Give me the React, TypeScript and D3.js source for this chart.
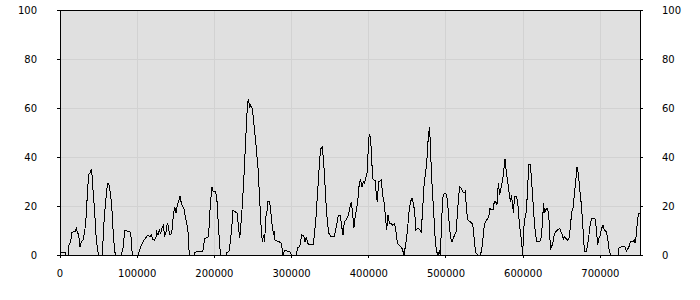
import React from "react";
import * as d3 from "d3";

const xTicks = [0, 100000, 200000, 300000, 400000, 500000, 600000, 700000];
const yTicks = [0, 20, 40, 60, 80, 100];

const xs = [
  0, 6900, 7800, 10400, 11700, 13800, 15500, 19900, 21200, 22500, 24200, 25900, 27600, 29800, 32000, 33700, 35400, 37100, 39300, 40600,
  41500, 43200, 44900, 46600, 48400, 50100, 54800, 57000, 58700, 60500, 62200, 63900, 65600, 67400, 69100, 70800, 72500, 79500, 81600, 82900,
  83800, 91500, 92400, 93700, 101000, 103200, 105400, 107500, 109700, 112300, 114000, 116600, 118300, 120000, 122600, 124400, 125200, 126900, 128700, 130400,
  132100, 133900, 135600, 137300, 139000, 140800, 141600, 143400, 145100, 146800, 148500, 150300, 152000, 153700, 155400, 157200, 158900, 160600, 162400, 164100,
  165800, 167500, 174000, 175000, 183900, 185200, 187400, 191700, 193000, 194700, 196900, 198200, 201600, 203400, 205100, 206800, 208100, 215400, 215900, 218900,
  220600, 222400, 224100, 226700, 229300, 231000, 232700, 234000, 236200, 237900, 239600, 241400, 243100, 244400, 245700, 247000, 248700, 250000, 252200, 254300,
  256500, 258600, 260400, 262100, 263800, 265100, 266400, 268100, 269000, 271600, 273300, 275000, 276800, 277600, 278500, 281100, 283700, 286300, 288000, 288900,
  290600, 294000, 297500, 299700, 306100, 307900, 310500, 313000, 315600, 317400, 319100, 320800, 322500, 327700, 329500, 331200, 332900, 334600, 336400, 338100,
  339800, 341500, 343300, 345000, 346700, 348400, 351000, 355400, 357100, 358800, 360500, 363100, 364900, 366600, 368300, 370900, 373500, 375200, 377400, 379100,
  380800, 382500, 384300, 386000, 387700, 389500, 391200, 392900, 394600, 396400, 398100, 399800, 401100, 402400, 403700, 405000, 406700, 408500, 409700, 411000,
  412800, 414500, 416200, 418000, 419700, 421400, 423100, 424900, 426600, 428300, 430900, 433500, 435200, 437000, 438700, 441300, 443000, 444700, 445600, 447300,
  449000, 450800, 452500, 454200, 456000, 457700, 459400, 461100, 462900, 464600, 466300, 468000, 469800, 471500, 473200, 475000, 476700, 478400, 479700, 481000,
  482700, 484500, 486200, 487900, 489600, 491400, 492700, 494000, 495700, 497400, 499100, 500900, 502600, 504300, 506000, 507800, 509500, 511200, 513000, 514700,
  516400, 518100, 519900, 521600, 523300, 525000, 526800, 528500, 531100, 533700, 535400, 537100, 538900, 541500, 544000, 545800, 547500, 549200, 551000, 552700,
  555300, 557000, 558700, 560900, 562600, 564300, 566000, 567800, 569500, 571200, 573000, 574700, 576400, 578100, 579900, 581600, 583300, 585000, 585900, 587600,
  588500, 591100, 592800, 594500, 596300, 598000, 599300, 600600, 602300, 604000, 605800, 607100, 609200, 611000, 612700, 614400, 616100, 617900, 621300, 623000,
  624800, 625600, 626500, 627400, 629100, 630800, 632500, 634300, 635100, 636900, 638600, 640300, 642000, 644600, 647200, 649000, 650700, 652400, 653300, 655000,
  657600, 659300, 661000, 662800, 664500, 666200, 668000, 669700, 671400, 673100, 674900, 676600, 678300, 679200, 681800, 683500, 685200, 687000, 688700, 690400,
  693000, 694700, 696500, 698200, 699900, 701600, 703400, 705100, 707700, 709400, 711100, 712900, 723200, 724100, 726700, 731900, 733600, 735300, 737000, 738800,
  742200, 744000, 744800, 746500, 748300, 750000, 751300
];

const values = [
  1.2, 1.2, 0, 0, 4.1, 5.4, 9.3, 9.5, 10.9, 9.3, 8.2, 3.3, 5.4, 6.1, 9.5, 15.0, 24.5, 32.7, 33.7, 35.1,
  32.7, 24.5, 17.7, 8.2, 2.7, 0, 0, 13.6, 20.4, 26.5, 29.3, 28.3, 24.5, 17.7, 8.2, 1.4, 0, 0, 2.7, 6.8,
  10.1, 9.3, 5.4, 0, 0, 2.0, 4.1, 5.4, 6.5, 7.5, 8.2, 7.5, 8.2, 6.5, 6.0, 7.5, 9.5, 8.2, 10.2, 8.8,
  10.9, 12.2, 7.5, 9.5, 12.9, 11.8, 8.2, 8.2, 10.2, 16.3, 19.7, 17.1, 20.4, 21.8, 24.1, 21.1, 19.7, 19.0, 15.6, 12.9,
  9.5, 0, 0, 1.2, 1.4, 2.0, 6.8, 7.1, 10.9, 20.4, 27.9, 26.1, 25.9, 21.8, 12.2, 4.1, 0, 0, 1.1, 1.4,
  5.4, 10.9, 18.4, 17.7, 17.1, 12.2, 6.8, 10.9, 20.4, 29.9, 40.8, 53.1, 62.6, 63.3, 59.9, 61.2, 59.9, 57.1, 50.3, 43.5,
  35.4, 23.1, 12.2, 5.4, 8.2, 5.4, 15.0, 17.7, 21.8, 21.8, 17.0, 11.6, 8.2, 9.8, 6.1, 5.7, 5.4, 4.8, 2.0, 0,
  1.8, 1.6, 1.4, 0, 0, 3.0, 3.4, 8.2, 7.9, 5.4, 7.5, 4.8, 4.4, 4.1, 8.2, 13.6, 21.8, 29.9, 39.5, 43.5,
  44.0, 38.1, 28.6, 19.0, 12.2, 8.8, 7.5, 7.5, 10.2, 12.9, 16.3, 16.1, 11.6, 8.2, 13.6, 14.3, 16.3, 19.0, 21.8, 16.3,
  11.2, 16.3, 19.0, 23.1, 29.3, 30.6, 27.9, 29.9, 29.3, 32.0, 34.0, 47.6, 49.3, 47.6, 39.5, 31.3, 30.6, 30.6, 24.5, 21.8,
  29.9, 30.2, 30.6, 24.5, 21.8, 16.3, 10.2, 16.3, 12.9, 12.9, 12.2, 12.9, 9.5, 4.8, 4.1, 3.4, 2.7, 1.1, 0, 3.4,
  6.8, 12.9, 19.0, 22.0, 23.1, 21.1, 17.7, 10.2, 10.9, 10.9, 10.2, 9.5, 19.0, 27.9, 32.7, 37.4, 46.3, 52.1, 46.3, 34.0,
  24.5, 15.0, 5.4, 1.4, 0, 1.4, 0, 10.9, 23.1, 24.8, 25.2, 24.5, 19.0, 12.2, 6.8, 5.4, 6.8, 8.2, 9.5, 16.3,
  24.5, 27.9, 27.2, 25.9, 25.2, 25.9, 17.7, 14.3, 13.6, 12.9, 10.9, 4.1, 0.7, 0, 0, 1.4, 5.4, 10.9, 13.6, 14.3,
  15.6, 19.0, 18.4, 18.4, 21.8, 21.8, 20.4, 29.3, 24.5, 27.2, 29.9, 34.0, 39.2, 34.0, 29.9, 25.9, 21.8, 24.5, 21.1, 17.0,
  23.8, 23.8, 21.8, 15.0, 9.5, 5.4, 0, 10.9, 15.0, 17.7, 27.2, 37.0, 37.0, 29.9, 21.8, 13.6, 8.2, 5.4, 5.4, 6.8,
  12.2, 17.0, 21.1, 17.0, 18.4, 19.0, 17.7, 10.9, 2.0, 3.4, 5.4, 8.2, 9.5, 10.2, 10.9, 9.5, 8.2, 6.1, 7.5, 6.8,
  6.1, 6.8, 10.9, 17.7, 19.0, 24.5, 29.9, 36.0, 33.3, 27.2, 21.8, 15.0, 6.8, 1.4, 1.4, 4.1, 8.2, 12.9, 14.7, 15.0,
  14.7, 10.9, 4.1, 6.8, 8.2, 10.9, 12.2, 10.2, 9.5, 6.8, 2.7, 0, 0, 3.0, 3.3, 3.3, 1.4, 2.4, 3.4, 5.4,
  5.4, 6.1, 4.8, 8.2, 15.0, 17.0, 17.0
];

const X_MAX = 751300;

export default function App() {
  const left = 60, right = 640, top = 10, bottom = 255;
  const x = d3.scaleLinear().domain([0, X_MAX]).range([left, right]);
  const y = d3.scaleLinear().domain([0, 100]).range([bottom, top]);
  const data = xs.map((xv, i) => [xv, values[i]] as [number, number]);
  const line = d3.line<[number, number]>().x(d => x(d[0])).y(d => y(d[1]));
  const font = "'DejaVu Sans', sans-serif";
  return (
    <svg width={700} height={300} style={{ position: "absolute", left: 0, top: 0 }}>
      <rect x={0} y={0} width={700} height={300} fill="#ffffff" />
      <rect x={left} y={top} width={right - left} height={bottom - top} fill="#e0e0e0" />
      <g shapeRendering="crispEdges">
        {xTicks.map(t => (
          <line key={"gx" + t} x1={x(t)} x2={x(t)} y1={top} y2={bottom} stroke="#d2d2d2" />
        ))}
        {yTicks.map(t => (
          <line key={"gy" + t} x1={left} x2={right} y1={y(t)} y2={y(t)} stroke="#d2d2d2" />
        ))}
      </g>
      <path d={line(data) || ""} fill="none" stroke="#000" strokeWidth={1} shapeRendering="crispEdges" />
      <g shapeRendering="crispEdges" stroke="#000">
        <rect x={left} y={top} width={right - left} height={bottom - top} fill="none" />
        {yTicks.map(t => (
          <g key={"ty" + t}>
            <line x1={left - 3} x2={left} y1={y(t)} y2={y(t)} />
            <line x1={right} x2={right + 3} y1={y(t)} y2={y(t)} />
          </g>
        ))}
        {xTicks.map(t => (
          <line key={"tx" + t} x1={x(t)} x2={x(t)} y1={bottom} y2={bottom + 3} />
        ))}
      </g>
      <g fontFamily={font} fontSize={10} fill="#000">
        {yTicks.map(t => (
          <text key={"ly" + t} x={37} y={y(t)} dy="0.35em" textAnchor="end">{t}</text>
        ))}
        {yTicks.map(t => (
          <text key={"ry" + t} x={662} y={y(t)} dy="0.35em" textAnchor="start">{t}</text>
        ))}
        {xTicks.map(t => (
          <text key={"lx" + t} x={x(t)} y={277} textAnchor="middle">{t}</text>
        ))}
      </g>
    </svg>
  );
}
